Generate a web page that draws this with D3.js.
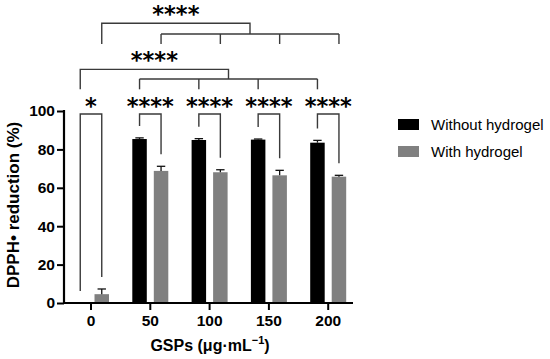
<!DOCTYPE html>
<html><head><meta charset="utf-8">
<script src="https://cdn.jsdelivr.net/npm/d3@7"></script>
<style>
body{margin:0;background:#fff;}
svg{display:block;font-family:"Liberation Sans",Arial,sans-serif;}
</style></head>
<body><svg id="c" width="550" height="359"></svg>
<script>
const categories = ["0","50","100","150","200"];
const seriesNames = ["Without hydrogel","With hydrogel"];
const withoutMean = [0, 85.4, 84.9, 85.1, 83.5];
const withoutErr  = [0, 0.6, 0.7, 0.3, 1.2];
const withMean    = [4.6, 68.8, 68.1, 66.5, 65.8];
const withErr     = [2.7, 2.4, 1.3, 2.6, 0.7];
const pairStars   = ["*","****","****","****","****"];
const yTicks = [0,20,40,60,80,100];
const colors = ["#000000","#808080"];

const svg = d3.select("#c");
const y = d3.scaleLinear().domain([0,100]).range([303,111]);
const x = d3.scaleBand().domain(categories).range([61.35,357.85]).padding(0);
const xs = d3.scaleBand().domain(seriesNames).range([-18,18]).paddingInner(0.326);
const cx = c => x(c) + x.bandwidth()/2;
const bc = (c,s) => cx(c) + xs(s) + xs.bandwidth()/2;
const starFont = "'DejaVu Sans',sans-serif";

const rows = categories.map((c,i)=>({c, vals:[
  {s:seriesNames[0], v:withoutMean[i], e:withoutErr[i], col:colors[0]},
  {s:seriesNames[1], v:withMean[i], e:withErr[i], col:colors[1]}]}));

// bars
const g = svg.append("g");
rows.forEach(r=>{
  r.vals.forEach(d=>{
    if(d.v>0) g.append("rect").attr("x",cx(r.c)+xs(d.s)).attr("width",xs.bandwidth())
      .attr("y",y(d.v)).attr("height",y(0)-y(d.v)).attr("fill",d.col);
    if(d.e>0){
      const xm = bc(r.c,d.s);
      g.append("line").attr("x1",xm).attr("x2",xm).attr("y1",y(d.v)).attr("y2",y(d.v+d.e))
        .attr("stroke","#111").attr("stroke-width",1.3);
      g.append("line").attr("x1",xm-4.2).attr("x2",xm+4.2).attr("y1",y(d.v+d.e)).attr("y2",y(d.v+d.e))
        .attr("stroke","#111").attr("stroke-width",1.3);
    }
  });
});

// axes
const yAxis = d3.axisLeft(y).tickValues(yTicks).tickSize(7).tickPadding(2);
const ya = svg.append("g").attr("transform","translate(64,0)").call(yAxis);
ya.select(".domain").attr("d","M0,"+(y(100)-1)+"V"+(y(0)+1)).attr("stroke","#000").attr("stroke-width",2.2);
ya.selectAll(".tick line").attr("stroke","#000").attr("stroke-width",2);
ya.selectAll(".tick text").attr("font-size",15.5).attr("font-weight","bold").attr("fill","#000")
  .attr("font-family","'Liberation Sans',Arial,sans-serif");

const xAxis = d3.axisBottom(x).tickSize(7).tickPadding(5);
const xa = svg.append("g").attr("transform","translate(0,303)").call(xAxis);
xa.select(".domain").attr("d","M63,0H353").attr("stroke","#000").attr("stroke-width",2.2);
xa.selectAll(".tick line").attr("stroke","#000").attr("stroke-width",2);
xa.selectAll(".tick text").attr("font-size",15.5).attr("font-weight","bold").attr("fill","#000")
  .attr("font-family","'Liberation Sans',Arial,sans-serif");

// axis titles
svg.append("text").attr("transform","translate(19,205) rotate(-90)").attr("text-anchor","middle")
  .attr("font-size",17).attr("font-weight","bold").text("DPPH\u2022 reduction (%)");
const xt = svg.append("text").attr("x",210).attr("y",351).attr("text-anchor","middle")
  .attr("font-size",16).attr("font-weight","bold");
xt.append("tspan").text("GSPs (\u03bcg\u00b7mL");
xt.append("tspan").attr("dy",-7).attr("font-size",11).text("\u22121");
xt.append("tspan").attr("dy",7).text(")");

// pairwise brackets
const bst = {stroke:"#3a3a3a","stroke-width":1.4,fill:"none"};
const applyS = sel => { for(const k in bst) sel.attr(k,bst[k]); return sel; };
const topY = y(98.4);
rows.forEach((r,i)=>{
  const a = r.vals[0], b = r.vals[1];
  const xa1 = bc(r.c,a.s), xb1 = bc(r.c,b.s);
  const ya1 = y(a.v+a.e)-12, yb1 = y(b.v+b.e)-12;
  applyS(svg.append("path").attr("d",`M${xa1},${ya1}V${topY}H${xb1}V${yb1}`));
  svg.append("text").attr("x",(xa1+xb1)/2).attr("y",topY).attr("text-anchor","middle")
    .attr("font-family",starFont).attr("font-size",22.5).attr("font-weight","bold").text(pairStars[i]);
});

// group brackets: series vs. 0 control
function groupBracket(si, mainV, subV, legV, star){
  const s = seriesNames[si];
  const x0 = bc(categories[0],s);
  const others = categories.slice(1).map(c=>bc(c,s));
  const sx1 = others[0], sx2 = others[others.length-1], sm = (sx1+sx2)/2;
  applyS(svg.append("path").attr("d",`M${x0},${y(legV)}V${y(mainV)}H${sm}V${y(subV)}`));
  applyS(svg.append("path").attr("d",`M${sx1},${y(subV)}H${sx2}`));
  others.forEach(ox=>applyS(svg.append("path").attr("d",`M${ox},${y(subV)}V${y(legV)}`)));
  svg.append("text").attr("x",(x0+sm)/2).attr("y",y(mainV)-1).attr("text-anchor","middle")
    .attr("font-family",starFont).attr("font-size",22.5).attr("font-weight","bold").text(star);
}
groupBracket(0, 121.7, 116.7, 111.3, "****");
groupBracket(1, 145.7, 140.1, 134.9, "****");

// legend
seriesNames.forEach((s,i)=>{
  const ly = 119 + i*27;
  svg.append("rect").attr("x",398).attr("y",ly).attr("width",21).attr("height",11).attr("fill",colors[i]);
  svg.append("text").attr("x",431).attr("y",ly+11).attr("font-size",15).text(s);
});
</script></body></html>
